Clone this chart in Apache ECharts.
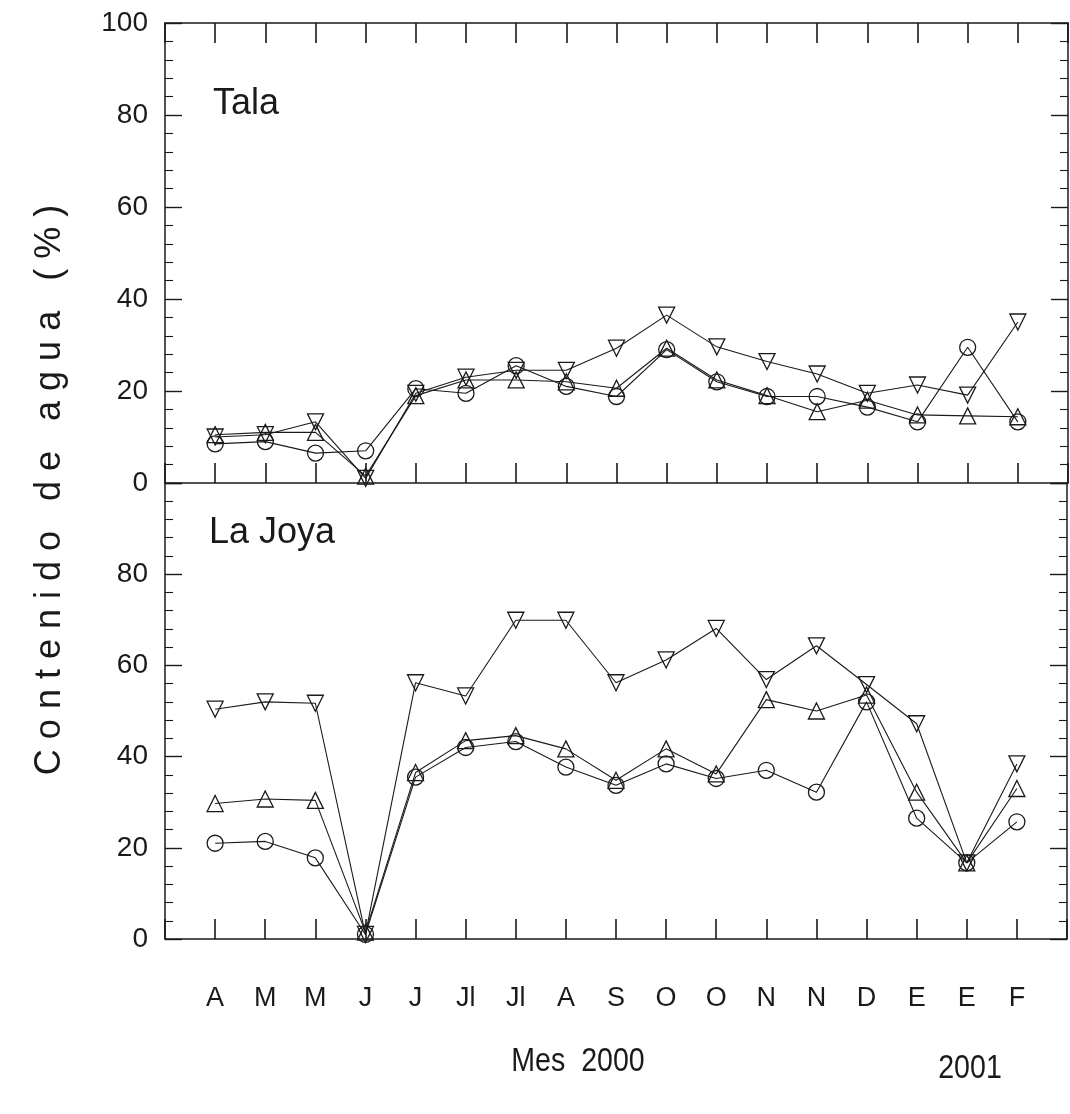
<!DOCTYPE html>
<html>
<head>
<meta charset="utf-8">
<title>Contenido de agua</title>
<script src="https://cdn.jsdelivr.net/npm/echarts@6/dist/echarts.min.js"></script>
<style>
  html, body { margin: 0; padding: 0; background: #fff; }
  #chart { width: 1070px; height: 1114px; }
</style>
</head>
<body>
<div id="chart"></div>
<script>
// Month labels (April 2000 .. February 2001, sampled twice a month)
const months = ['A', 'M', 'M', 'J', 'J', 'Jl', 'Jl', 'A', 'S', 'O', 'O', 'N', 'N', 'D', 'E', 'E', 'F'];
const yTicks = [0, 20, 40, 60, 80, 100];

// Tala site – water content (%)
const talaCircle = [8.5, 9, 6.5, 7, 20.5, 19.5, 25.5, 21, 18.8, 29, 22, 18.8, 18.8, 16.5, 13.3, 29.5, 13.3];
const talaUp     = [10.5, 11, 11, 1.5, 19, 22.4, 22.4, 22, 20.6, 29.3, 22.4, 19, 15.5, 18, 14.8, 14.6, 14.4];
const talaDown   = [10, 10.5, 13.3, 1, 19.5, 23, 24.5, 24.5, 29.3, 36.5, 29.6, 26.4, 23.7, 19.5, 21.3, 19.1, 35];

// La Joya site – water content (%)
const joyaCircle = [21, 21.4, 17.8, 1, 35.5, 42, 43.3, 37.7, 33.7, 38.4, 35.2, 37, 32.2, 52, 26.5, 16.7, 25.7];
const joyaUp     = [29.7, 30.7, 30.4, 1.5, 36.5, 43.5, 44.6, 41.7, 34.8, 41.7, 36.2, 52.5, 50, 53.5, 32.2, 16.7, 33];
const joyaDown   = [50.4, 52, 51.7, 1, 56.2, 53.3, 69.9, 69.9, 56.2, 61.2, 68.1, 56.9, 64.3, 55.8, 47.2, 16.7, 38.4];

const INK = '#1a1a1a';
const SANS = '"Liberation Sans", Arial, sans-serif';

const pairs = vals => vals.map((v, i) => [i, v]);

function lineSeries(vals, symbol, rotate, xi, yi) {
  return {
    type: 'line',
    xAxisIndex: xi,
    yAxisIndex: yi,
    data: pairs(vals),
    symbol: symbol,
    symbolRotate: rotate,
    symbolSize: 16,
    clip: false,
    lineStyle: { color: INK, width: 1.1 },
    itemStyle: { color: 'rgba(255,255,255,0)', borderColor: INK, borderWidth: 1.3 },
    emphasis: { disabled: true },
    animation: false
  };
}

function xAxis(gridIndex, position, showLabels) {
  return {
    type: 'value',
    gridIndex: gridIndex,
    position: position,
    min: -1,
    max: 17,
    interval: 1,
    splitLine: { show: false },
    axisLine: { show: true, onZero: false, lineStyle: { color: INK, width: 1.5 } },
    axisTick: { show: true, inside: true, length: 20, lineStyle: { color: INK, width: 1.6 } },
    axisLabel: {
      show: showLabels,
      margin: 46,
      fontFamily: SANS,
      fontSize: 27,
      color: INK,
      formatter: v => (v >= 0 && v < months.length && Number.isInteger(v)) ? months[v] : ''
    }
  };
}

function yAxis(gridIndex, position, showLabels, hideTop) {
  return {
    type: 'value',
    gridIndex: gridIndex,
    position: position,
    min: yTicks[0],
    max: yTicks[yTicks.length - 1],
    interval: 20,
    splitLine: { show: false },
    axisLine: { show: true, onZero: false, lineStyle: { color: INK, width: 1.5 } },
    axisTick: { show: true, inside: true, length: 17, lineStyle: { color: INK, width: 1.4 } },
    minorTick: { show: true, splitNumber: 5, length: 8, lineStyle: { color: INK, width: 1.1 } },
    axisLabel: {
      show: showLabels,
      margin: 17,
      fontFamily: SANS,
      fontSize: 28,
      color: INK,
      formatter: v => (hideTop && v === 100) ? '' : String(v)
    }
  };
}

const chart = echarts.init(document.getElementById('chart'), null, { renderer: 'canvas' });

chart.setOption({
  backgroundColor: '#ffffff',
  animation: false,
  grid: [
    { left: 165, top: 23, width: 903, height: 460, show: false },
    { left: 165, top: 483, width: 903, height: 456, show: false }
  ],
  xAxis: [
    xAxis(0, 'bottom', false),
    xAxis(0, 'top', false),
    xAxis(1, 'bottom', true)
  ],
  yAxis: [
    yAxis(0, 'left', true, false),
    yAxis(0, 'right', false, false),
    yAxis(1, 'left', true, true),
    yAxis(1, 'right', false, false)
  ],
  graphic: [
    { type: 'text', left: 213, top: 86, style: { text: 'Tala', font: '36px ' + SANS, fill: INK } },
    { type: 'text', left: 209, top: 515, style: { text: 'La Joya', font: '36px ' + SANS, fill: INK } },
    {
      type: 'text',
      x: 50, y: 490,
      rotation: Math.PI / 2,
      style: {
        text: 'C o n t e n i d o   d e   a g u a   ( % )',
        font: '36px ' + SANS,
        fill: INK,
        align: 'center',
        verticalAlign: 'middle'
      }
    },
    { type: 'text', x: 578, y: 1062, scaleX: 0.84, style: { text: 'Mes  2000', font: '34px ' + SANS, fill: INK, align: 'center', verticalAlign: 'middle' } },
    { type: 'text', x: 970, y: 1069, scaleX: 0.84, style: { text: '2001', font: '34px ' + SANS, fill: INK, align: 'center', verticalAlign: 'middle' } }
  ],
  series: [
    lineSeries(talaCircle, 'circle', 0, 0, 0),
    lineSeries(talaUp, 'triangle', 0, 0, 0),
    lineSeries(talaDown, 'triangle', 180, 0, 0),
    lineSeries(joyaCircle, 'circle', 0, 2, 2),
    lineSeries(joyaUp, 'triangle', 0, 2, 2),
    lineSeries(joyaDown, 'triangle', 180, 2, 2)
  ]
});
</script>
</body>
</html>
